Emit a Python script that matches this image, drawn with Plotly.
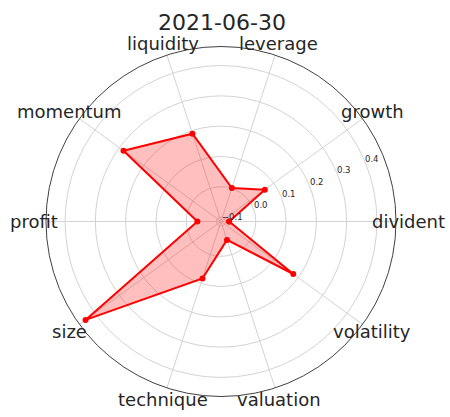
import math
import plotly.graph_objects as go

categories = ["divident", "growth", "leverage", "liquidity", "momentum",
              "profit", "size", "technique", "valuation", "volatility"]
values = [-0.088, 0.064, 0.001, 0.190, 0.283, -0.037, 0.438, 0.083, -0.051, 0.180]
radial_ticks = [-0.1, 0.0, 0.1, 0.2, 0.3, 0.4]
radial_ticktext = ["\u22120.1", "0.0", "0.1", "0.2", "0.3", "0.4"]
title_text = "2021-06-30"
r_range = [-0.115, 0.463]

W, H = 450, 417
cx_px, cy_px, rad_px = 221, 221.5, 175

theta = categories + [categories[0]]
r = values + [values[0]]

fig = go.Figure()
fig.add_trace(go.Scatterpolar(
    r=r, theta=theta, mode="lines+markers",
    fill="toself", fillcolor="rgba(255,0,0,0.25)",
    line=dict(color="red", width=2),
    marker=dict(color="red", size=6),
    showlegend=False, hoverinfo="skip",
))

dom_x = [(cx_px - rad_px) / W, (cx_px + rad_px) / W]
dom_y = [1 - (cy_px + rad_px) / H, 1 - (cy_px - rad_px) / H]

annotations = []
n = len(categories)
lab_r = 187
for i, c in enumerate(categories):
    a = math.radians(360.0 * i / n)
    x = (cx_px + lab_r * math.cos(a)) / W
    y = 1 - (cy_px - lab_r * math.sin(a)) / H
    annotations.append(dict(x=x, y=y, xref="paper", yref="paper", text=c,
                            showarrow=False, xanchor="center", yanchor="middle",
                            font=dict(size=18, color="#262626",
                                      family="DejaVu Sans")))

scale = rad_px / (r_range[1] - r_range[0])
ta = math.radians(22.5)
for v, t in zip(radial_ticks, radial_ticktext):
    rr = (v - r_range[0]) * scale + 8
    x = (cx_px + rr * math.cos(ta)) / W
    y = 1 - (cy_px - rr * math.sin(ta)) / H
    annotations.append(dict(x=x, y=y, xref="paper", yref="paper", text=t,
                            showarrow=False, xanchor="center", yanchor="middle",
                            font=dict(size=8.5, color="#262626",
                                      family="DejaVu Sans")))

fig.update_layout(
    width=W, height=H,
    margin=dict(l=0, r=0, t=0, b=0),
    paper_bgcolor="white", plot_bgcolor="white",
    title=dict(text=title_text, x=222 / W, xanchor="center",
               y=1 - 22 / H, yanchor="middle",
               font=dict(size=22, color="#262626", family="DejaVu Sans")),
    annotations=annotations,
    polar=dict(
        domain=dict(x=dom_x, y=dom_y),
        bgcolor="white",
        radialaxis=dict(
            range=r_range,
            tickvals=radial_ticks,
            showticklabels=False,
            showline=False, ticks="",
            gridcolor="#d3d3d3", gridwidth=1,
        ),
        angularaxis=dict(
            direction="counterclockwise", rotation=0,
            showticklabels=False, ticks="",
            gridcolor="#d3d3d3", gridwidth=1,
            linecolor="#404040", linewidth=1,
        ),
    ),
)

fig.write_html("out.html",
               config={"displayModeBar": False},
               post_script="document.body.style.margin='0';"
                           "document.body.style.overflow='hidden';")
